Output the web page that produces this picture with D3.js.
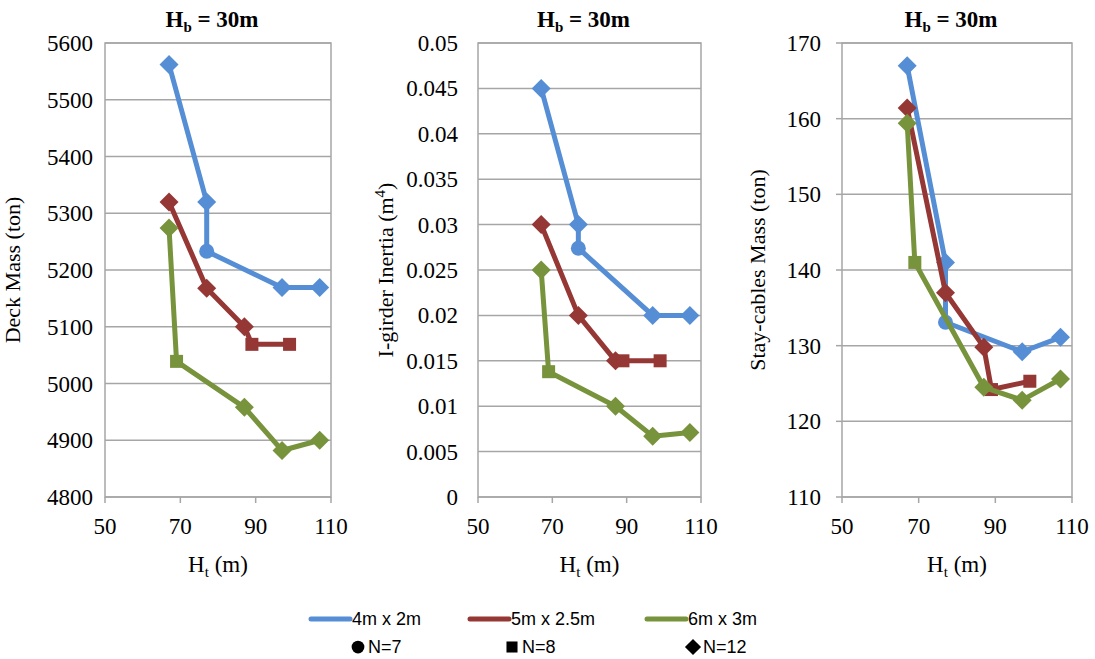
<!DOCTYPE html>
<html><head><meta charset="utf-8">
<script src="https://cdn.jsdelivr.net/npm/d3@7"></script>
<style>body{margin:0;background:#fff}svg{display:block}</style>
</head><body>
<svg id="c" width="1095" height="659"></svg>
<script>
// ---- data ----
const seriesNames = ["4m x 2m", "5m x 2.5m", "6m x 3m"];
const seriesColors = ["#558ED5", "#953735", "#77933C"];
const hT_4x2 = [67, 77, 77, 97, 107];
const hT_5x25 = [67, 77, 87, 89, 99];
const hT_6x3 = [67, 69, 87, 97, 107];
const mk_4x2 = ["N=12", "N=12", "N=7", "N=12", "N=12"];
const mk_5x25 = ["N=12", "N=12", "N=12", "N=8", "N=8"];
const mk_6x3 = ["N=12", "N=8", "N=12", "N=12", "N=12"];
const deck_4x2 = [5562, 5320, 5233, 5169, 5169];
const deck_5x25 = [5320, 5168, 5100, 5069, 5069];
const deck_6x3 = [5274, 5039, 4958, 4882, 4900];
const inertia_4x2 = [0.045, 0.030, 0.0274, 0.020, 0.020];
const inertia_5x25 = [0.030, 0.020, 0.015, 0.015, 0.015];
const inertia_6x3 = [0.025, 0.0138, 0.0100, 0.0067, 0.0071];
const cable_4x2 = [167, 141, 133.1, 129.2, 131.1];
const cable_5x25 = [161.4, 137, 129.8, 124.2, 125.3];
const cable_6x3 = [159.4, 141, 124.5, 122.8, 125.6];
const xTicks = [50, 70, 90, 110];
const deckTicks = [4800, 4900, 5000, 5100, 5200, 5300, 5400, 5500, 5600];
const inertiaTicks = [0, 0.005, 0.01, 0.015, 0.02, 0.025, 0.03, 0.035, 0.04, 0.045, 0.05];
const cableTicks = [110, 120, 130, 140, 150, 160, 170];
const markerNames = ["N=7", "N=8", "N=12"];

const xs = [hT_4x2, hT_5x25, hT_6x3];
const mks = [mk_4x2, mk_5x25, mk_6x3];

const panels = [
  {left:105, right:331, ys:[deck_4x2, deck_5x25, deck_6x3], ticks:deckTicks, fmt:d=>String(d),
   ylabel:[["Deck Mass (ton)",""]], labX:20, tickGap:12, yTickMarks:false},
  {left:478, right:701, ys:[inertia_4x2, inertia_5x25, inertia_6x3], ticks:inertiaTicks, fmt:d=>String(+d.toFixed(3)),
   ylabel:[["I-girder Inertia (m",""],["4","sup"],[")",""]], labX:393, tickGap:20, yTickMarks:false},
  {left:842, right:1072, ys:[cable_4x2, cable_5x25, cable_6x3], ticks:cableTicks, fmt:d=>String(d),
   ylabel:[["Stay-cables Mass (ton)",""]], labX:765, tickGap:21, yTickMarks:true}
];
const plotTop = 43, plotBottom = 497;
const serif = "'Liberation Serif','Times New Roman',serif";
const sans = "'Liberation Sans',Arial,sans-serif";
const svg = d3.select("#c");
const grid = "#A6A6A6";

function marker(g, type, x, y, color, s) {
  s = s || 1;
  if (type === "N=7") g.append("circle").attr("cx", x).attr("cy", y).attr("r", 7.5*s).attr("fill", color);
  else if (type === "N=8") g.append("rect").attr("x", x-6.5*s).attr("y", y-6.5*s).attr("width", 13*s).attr("height", 13*s).attr("fill", color);
  else g.append("path").attr("d", `M${x},${y-9.5*s}L${x+9.5*s},${y}L${x},${y+9.5*s}L${x-9.5*s},${y}Z`).attr("fill", color);
}

panels.forEach(p => {
  const x = d3.scaleLinear().domain([50, 110]).range([p.left, p.right]);
  const y = d3.scaleLinear().domain([p.ticks[0], p.ticks[p.ticks.length-1]]).range([plotBottom, plotTop]);
  const g = svg.append("g");
  g.selectAll(".gl").data(p.ticks).join("line")
    .attr("x1", p.left).attr("x2", p.right).attr("y1", d=>y(d)).attr("y2", d=>y(d))
    .attr("stroke", grid).attr("stroke-width", 1.5);
  g.append("rect").attr("x", p.left).attr("y", plotTop).attr("width", p.right-p.left).attr("height", plotBottom-plotTop)
    .attr("fill", "none").attr("stroke", grid).attr("stroke-width", 1.5);
  g.selectAll(".xt").data(xTicks).join("line")
    .attr("x1", d=>x(d)).attr("x2", d=>x(d)).attr("y1", plotBottom).attr("y2", plotBottom+6)
    .attr("stroke", grid).attr("stroke-width", 1.5);
  if (p.yTickMarks) {
    g.selectAll(".yt").data(p.ticks).join("line")
      .attr("x1", p.left-6).attr("x2", p.left).attr("y1", d=>y(d)).attr("y2", d=>y(d))
      .attr("stroke", grid).attr("stroke-width", 1.5);
  }
  g.selectAll(".xl").data(xTicks).join("text")
    .attr("x", d=>x(d)).attr("y", 534).attr("text-anchor", "middle")
    .attr("font-family", serif).attr("font-size", 23).attr("fill", "#000").text(d=>d);
  g.selectAll(".yl").data(p.ticks).join("text")
    .attr("x", p.left - p.tickGap).attr("y", d=>y(d)).attr("dy", "0.35em").attr("text-anchor", "end")
    .attr("font-family", serif).attr("font-size", 23).attr("fill", "#000").text(d=>p.fmt(d));
  const cx = (p.left + p.right)/2;
  const xl = g.append("text").attr("x", cx).attr("y", 572).attr("text-anchor", "middle")
    .attr("font-family", serif).attr("font-size", 23);
  xl.append("tspan").text("H");
  xl.append("tspan").attr("font-size", 15).attr("dy", 5).text("t");
  xl.append("tspan").attr("dy", -5).text(" (m)");
  const tt = g.append("text").attr("x", cx - 6).attr("y", 27).attr("text-anchor", "middle")
    .attr("font-family", serif).attr("font-size", 23).attr("font-weight", "bold");
  tt.append("tspan").text("H");
  tt.append("tspan").attr("font-size", 15).attr("dy", 5).text("b");
  tt.append("tspan").attr("dy", -5).text(" = 30m");
  const yl = g.append("text").attr("transform", `translate(${p.labX},${(plotTop+plotBottom)/2}) rotate(-90)`)
    .attr("text-anchor", "middle").attr("font-family", serif).attr("font-size", 22);
  p.ylabel.forEach(([t, k]) => {
    if (k === "sup") yl.append("tspan").attr("font-size", 15).attr("dy", -8).text(t);
    else if (yl.selectAll("tspan").size() > 0) yl.append("tspan").attr("dy", 8).text(t);
    else yl.append("tspan").text(t);
  });
  p.ys.forEach((vals, si) => {
    const pts = vals.map((v, i) => [x(xs[si][i]), y(v), mks[si][i]]);
    const sg = g.append("g");
    sg.append("path").attr("d", d3.line()(pts.map(q=>[q[0], q[1]])))
      .attr("fill", "none").attr("stroke", seriesColors[si]).attr("stroke-width", 5)
      .attr("stroke-linejoin", "round").attr("stroke-linecap", "round");
    pts.forEach(q => marker(sg, q[2], q[0], q[1], seriesColors[si]));
  });
});

const legX = [311, 470, 647];
const legY1 = 619, legY2 = 647;
seriesNames.forEach((n, i) => {
  svg.append("line").attr("x1", legX[i]).attr("x2", legX[i]+39).attr("y1", legY1).attr("y2", legY1)
    .attr("stroke", seriesColors[i]).attr("stroke-width", 5).attr("stroke-linecap", "round");
  svg.append("text").attr("x", legX[i]+41).attr("y", legY1).attr("dy", "0.35em")
    .attr("font-family", sans).attr("font-size", 18).attr("fill", "#000").text(n);
});
const mkX = [358, 512, 693];
markerNames.forEach((n, i) => {
  const gg = svg.append("g");
  marker(gg, n, mkX[i], legY2, "#000", 0.85);
  svg.append("text").attr("x", mkX[i]+10).attr("y", legY2).attr("dy", "0.35em")
    .attr("font-family", sans).attr("font-size", 18).attr("fill", "#000").text(n);
});
</script>
</body></html>
